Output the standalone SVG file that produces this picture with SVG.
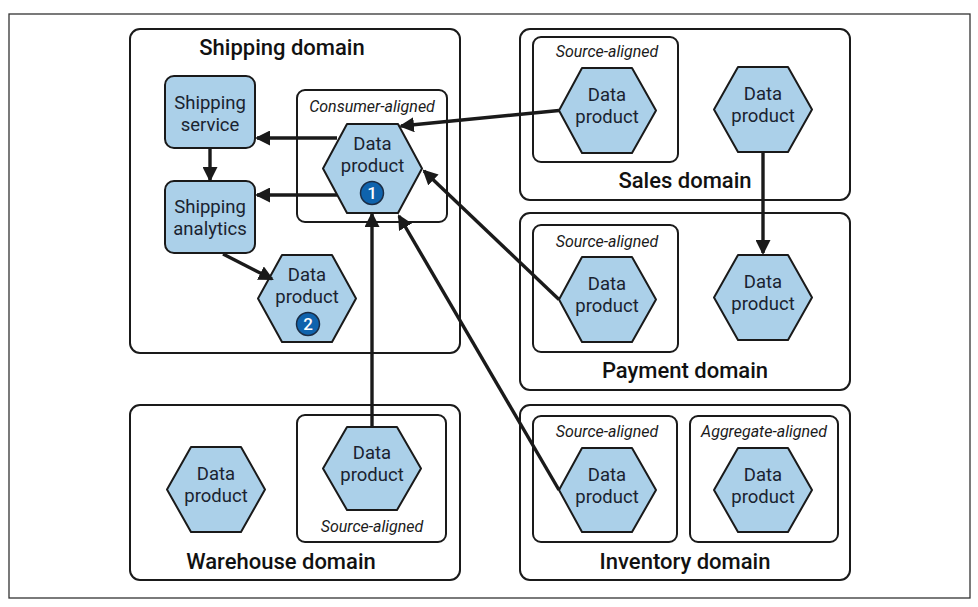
<svg xmlns="http://www.w3.org/2000/svg" width="978" height="607" viewBox="0 0 978 607">
<defs>
<style>
.frame{fill:none;stroke:#333;stroke-width:1.3}
.dom{fill:#fff;stroke:#1a1a1a;stroke-width:2}
.inner{fill:#fff;stroke:#1a1a1a;stroke-width:2}
.hex{fill:#abd0e9;stroke:#1a1a1a;stroke-width:2;stroke-linejoin:round}
.svc{fill:#abd0e9;stroke:#1a1a1a;stroke-width:2}
.title{font-family:Roboto,"Liberation Sans",sans-serif;font-size:22px;font-weight:500;fill:#111;text-anchor:middle}
.lbl{font-family:Roboto,"Liberation Sans",sans-serif;font-size:18.5px;fill:#1a2330;text-anchor:middle}
.it{font-family:Roboto,"Liberation Sans",sans-serif;font-size:16px;font-style:italic;fill:#1a1a1a;text-anchor:middle}
.badge{fill:#0f63ad;stroke:#1b2d45;stroke-width:1.5}
.num{font-family:Roboto,"Liberation Sans",sans-serif;font-size:17px;font-weight:500;fill:#fff;text-anchor:middle}
.conn{fill:none;stroke:#1a1a1a;stroke-width:3.4}
</style>
<marker id="ah" viewBox="0 0 15 15" refX="13" refY="7.5" markerWidth="15" markerHeight="15" markerUnits="userSpaceOnUse" orient="auto">
<path d="M0,0 L15,7.5 L0,15 z" fill="#1a1a1a"/>
</marker>
</defs>
<rect x="0" y="0" width="978" height="607" fill="#fff"/>
<rect class="frame" x="9" y="14" width="961" height="584"/>

<g id="shipping-domain">
<rect class="dom" x="130" y="29" width="330" height="324" rx="10"/>
<text class="title" x="282" y="55">Shipping domain</text>
</g>
<g id="shipping-service">
<rect class="svc" x="165" y="76" width="90" height="72" rx="9"/>
<text class="lbl" x="210" y="109">Shipping</text>
<text class="lbl" x="210" y="131">service</text>
</g>
<g id="shipping-analytics">
<rect class="svc" x="165" y="181" width="90" height="72" rx="9"/>
<text class="lbl" x="210" y="213">Shipping</text>
<text class="lbl" x="210" y="235">analytics</text>
</g>
<g id="consumer-aligned">
<rect class="inner" x="297" y="90" width="150" height="132" rx="8"/>
<text class="it" x="372" y="112">Consumer-aligned</text>
</g>
<g id="dp1">
<polygon class="hex" points="347,124 398,124 422,168.5 398,213 347,213 323,168.5"/>
<text class="lbl" x="372.5" y="150">Data</text>
<text class="lbl" x="372.5" y="172">product</text>
<circle class="badge" cx="372" cy="193" r="11.5"/>
<text class="num" x="372" y="199">1</text>
</g>
<g id="dp2">
<polygon class="hex" points="282,255 332,255 356,298.5 332,342 282,342 258,298.5"/>
<text class="lbl" x="307" y="281">Data</text>
<text class="lbl" x="307" y="303">product</text>
<circle class="badge" cx="308" cy="324" r="11.5"/>
<text class="num" x="308" y="330">2</text>
</g>

<g id="sales-domain">
<rect class="dom" x="520" y="29" width="330" height="171" rx="10"/>
<text class="title" x="685" y="188">Sales domain</text>
</g>
<g id="sales-source">
<rect class="inner" x="533" y="37" width="145" height="125" rx="8"/>
<text class="it" x="607" y="57">Source-aligned</text>
</g>
<g id="sales-dp1">
<polygon class="hex" points="582,68 632,68 656,110.5 632,153 582,153 559,110.5"/>
<text class="lbl" x="607" y="101">Data</text>
<text class="lbl" x="607" y="123">product</text>
</g>
<g id="sales-dp2">
<polygon class="hex" points="738,67 788,67 812,109.5 788,152 738,152 714,109.5"/>
<text class="lbl" x="763" y="100">Data</text>
<text class="lbl" x="763" y="122">product</text>
</g>

<g id="payment-domain">
<rect class="dom" x="520" y="213" width="330" height="177" rx="10"/>
<text class="title" x="685" y="378">Payment domain</text>
</g>
<g id="payment-source">
<rect class="inner" x="533" y="225" width="145" height="127" rx="8"/>
<text class="it" x="607" y="247">Source-aligned</text>
</g>
<g id="payment-dp1">
<polygon class="hex" points="582,257 632,257 656,299.5 632,342 582,342 559,299.5"/>
<text class="lbl" x="607" y="290">Data</text>
<text class="lbl" x="607" y="312">product</text>
</g>
<g id="payment-dp2">
<polygon class="hex" points="738,255 788,255 812,297.5 788,340 738,340 714,297.5"/>
<text class="lbl" x="763" y="288">Data</text>
<text class="lbl" x="763" y="310">product</text>
</g>

<g id="warehouse-domain">
<rect class="dom" x="130" y="405" width="330" height="175" rx="10"/>
<text class="title" x="281" y="569">Warehouse domain</text>
</g>
<g id="warehouse-dp1">
<polygon class="hex" points="191,447 241,447 265,489.5 241,532 191,532 167,489.5"/>
<text class="lbl" x="216" y="480">Data</text>
<text class="lbl" x="216" y="502">product</text>
</g>
<g id="warehouse-source">
<rect class="inner" x="297" y="415" width="149" height="127" rx="8"/>
<text class="it" x="372" y="532">Source-aligned</text>
</g>
<g id="warehouse-dp2">
<polygon class="hex" points="347,427 397,427 421,468.5 397,510 347,510 323,468.5"/>
<text class="lbl" x="372" y="459">Data</text>
<text class="lbl" x="372" y="481">product</text>
</g>

<g id="inventory-domain">
<rect class="dom" x="520" y="405" width="330" height="175" rx="10"/>
<text class="title" x="685" y="569">Inventory domain</text>
</g>
<g id="inventory-source">
<rect class="inner" x="533" y="416" width="144" height="126" rx="8"/>
<text class="it" x="607" y="437">Source-aligned</text>
</g>
<g id="inventory-dp1">
<polygon class="hex" points="582,448 632,448 656,490 632,532 582,532 559,490"/>
<text class="lbl" x="607" y="481">Data</text>
<text class="lbl" x="607" y="503">product</text>
</g>
<g id="aggregate-aligned">
<rect class="inner" x="690" y="416" width="148" height="126" rx="8"/>
<text class="it" x="764" y="437">Aggregate-aligned</text>
</g>
<g id="inventory-dp2">
<polygon class="hex" points="738,448 788,448 812,490 788,532 738,532 714,490"/>
<text class="lbl" x="763" y="481">Data</text>
<text class="lbl" x="763" y="503">product</text>
</g>

<g id="connectors">
<line class="conn" x1="559" y1="110.5" x2="401" y2="126" marker-end="url(#ah)"/>
<line class="conn" x1="337" y1="138" x2="257" y2="138" marker-end="url(#ah)"/>
<line class="conn" x1="337" y1="195" x2="257" y2="195" marker-end="url(#ah)"/>
<line class="conn" x1="210" y1="148" x2="210" y2="180" marker-end="url(#ah)"/>
<line class="conn" x1="223" y1="254" x2="272" y2="279" marker-end="url(#ah)"/>
<line class="conn" x1="763" y1="152" x2="763" y2="253" marker-end="url(#ah)"/>
<line class="conn" x1="559" y1="299.5" x2="424" y2="171" marker-end="url(#ah)"/>
<line class="conn" x1="372" y1="427" x2="372" y2="214" marker-end="url(#ah)"/>
<line class="conn" x1="559" y1="490" x2="399" y2="216" marker-end="url(#ah)"/>
</g>
</svg>
